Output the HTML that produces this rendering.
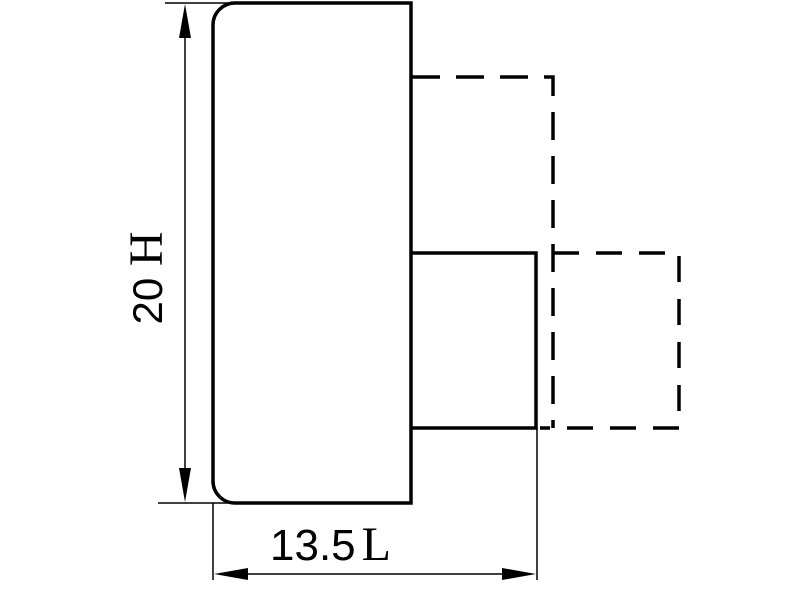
<!DOCTYPE html>
<html><head><style>body{margin:0;background:#fff}svg{display:block}</style></head>
<body>
<svg width="800" height="600" viewBox="0 0 800 600" xmlns="http://www.w3.org/2000/svg">
<g fill="none" stroke="#000">
<path d="M235 3 H411 V503 H235 A22 22 0 0 1 213 481 V25 A22 22 0 0 1 235 3 Z" stroke-width="3.5"/>
<path d="M412 253 H536 V428 H412" stroke-width="3.5"/>
<path d="M412 77 H553 V428" stroke-width="3.5" stroke-dasharray="28,16"/>
<path d="M553 253 H679 V428 H540" stroke-width="3.5" stroke-dasharray="26,17"/>
<line x1="165" y1="3" x2="232" y2="3" stroke-width="1.5"/>
<line x1="158" y1="503" x2="232" y2="503" stroke-width="1.5"/>
<line x1="185" y1="20" x2="185" y2="486" stroke-width="1.5"/>
<line x1="213" y1="503" x2="213" y2="580" stroke-width="1.5"/>
<line x1="537" y1="428" x2="537" y2="580" stroke-width="1.5"/>
<line x1="230" y1="574" x2="520" y2="574" stroke-width="1.5"/>
</g>
<g fill="#000">
<polygon points="185,4 179,38 191,38"/>
<polygon points="185,502 179,468 191,468"/>
<polygon points="214,574 248,568 248,580"/>
<polygon points="536,574 502,568 502,580"/>
</g>
<text x="270" y="560" font-family="Liberation Sans, sans-serif" font-size="44">13.5<tspan dx="6" font-family="Liberation Serif, serif" font-size="48">L</tspan></text>
<text transform="translate(162,278) rotate(-90)" text-anchor="middle" font-family="Liberation Sans, sans-serif" font-size="42">20 <tspan font-family="Liberation Serif, serif" font-size="48">H</tspan></text>
</svg>
</body></html>
